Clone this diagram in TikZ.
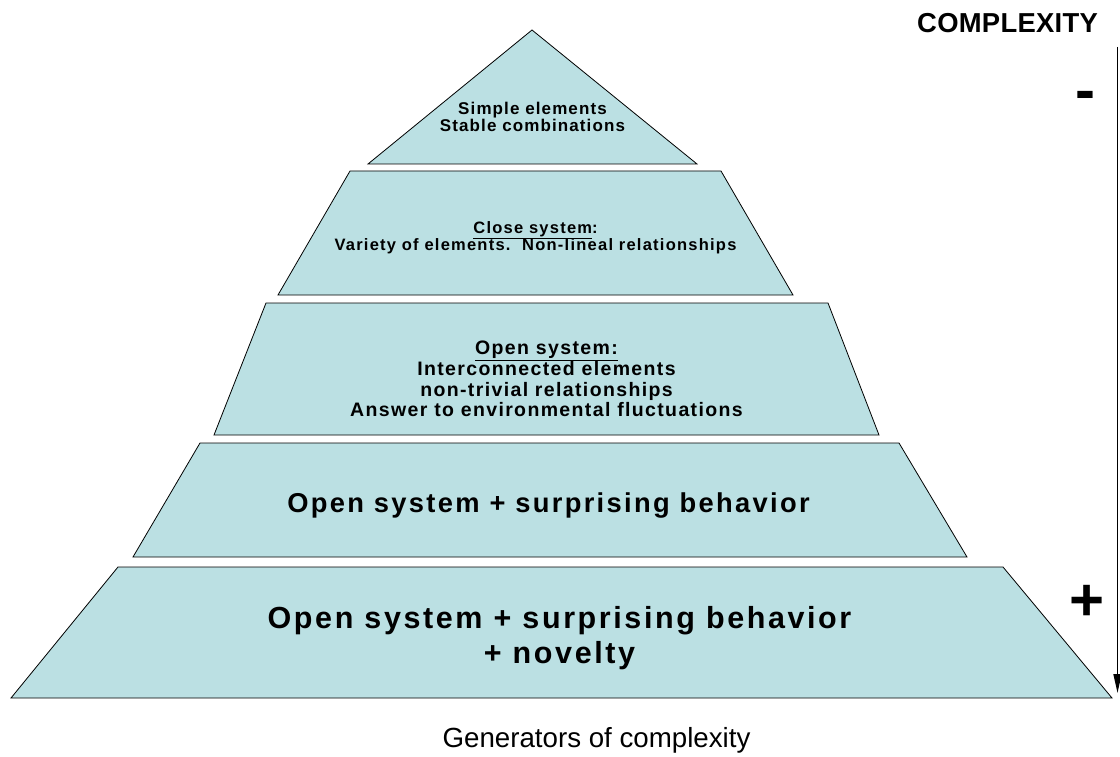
\documentclass[tikz,border=0pt]{standalone}
\usepackage{fontspec}
\setmainfont{Liberation Sans}
\usepackage{tikz}
\usetikzlibrary{positioning, arrows.meta}
\definecolor{pale}{RGB}{187,224,227}
\lineskiplimit=-\maxdimen

\begin{document}
\begin{tikzpicture}[
		x=1pt, y=-1pt,
		layer/.style = {draw=black, fill=pale, line width=0.8pt},
		txt/.style = {align=center, inner sep=0pt},
		sized/.style n args = {3}{font=\bfseries\fontsize{#1}{#2}\selectfont\addfontfeatures{LetterSpace=#3}}
	]
	\useasboundingbox (0,0) rectangle (1120,757);
	% Level 1.
	\draw[layer] (532,30) -- (697,164) -- (368,164) -- cycle;
	\node[txt, sized={17}{17}{6.5}] (simple) at (532.5,117) {Simple elements\\Stable combinations};
	% Level 2.
	\draw[layer] (350,171) -- (721,171) -- (793,295) -- (278,295) -- cycle;
	\node[txt, sized={16.5}{17}{7.5}] (close) at (535.5,238) {\underline{Close system}:\\Variety of elements.\ \ Non-lineal relationships};
	% Level 3.
	\draw[layer] (266,303) -- (828,303) -- (879,435) -- (214,435) -- cycle;
	\node[txt, sized={19.5}{20.7}{7}] (open) at (546.5,379) {\underline{Open system:}\\Interconnected elements\\non-trivial relationships\\Answer to environmental fluctuations};
	% Level 4.
	\draw[layer] (200,443) -- (899,443) -- (967,557) -- (133,557) -- cycle;
	\node[txt, sized={27.3}{30}{8.5}] (surprise) at (548.5,505) {Open system + surprising behavior};
	% Level 5.
	\draw[layer] (118,567) -- (1003,567) -- (1112,698) -- (11,698) -- cycle;
	\node[txt, sized={30.5}{35.6}{8.5}] (novelty) at (559.5,638) {Open system + surprising behavior\\+ novelty};

	% Scale at the right.
	\node[txt, sized={27.4}{27.4}{1}] (complexity) at (1007.5,23) {COMPLEXITY};
	\node[txt, sized={60}{60}{0}] (less) at (1085.5,101) {-};
	\node[txt, sized={60}{60}{0}] (more) at (1087,603) {+};
	\coordinate (stop) at (1117.5,47);
	\coordinate (sbot) at (1117.5,693);
	\draw[line width=1.6pt, -{Triangle[length=19pt,width=8pt]}] (stop) -- (sbot);

	\node[txt, font=\fontsize{27.7}{27.7}\selectfont] (generators) at (596.5,740) {Generators of complexity};
\end{tikzpicture}
\end{document}
